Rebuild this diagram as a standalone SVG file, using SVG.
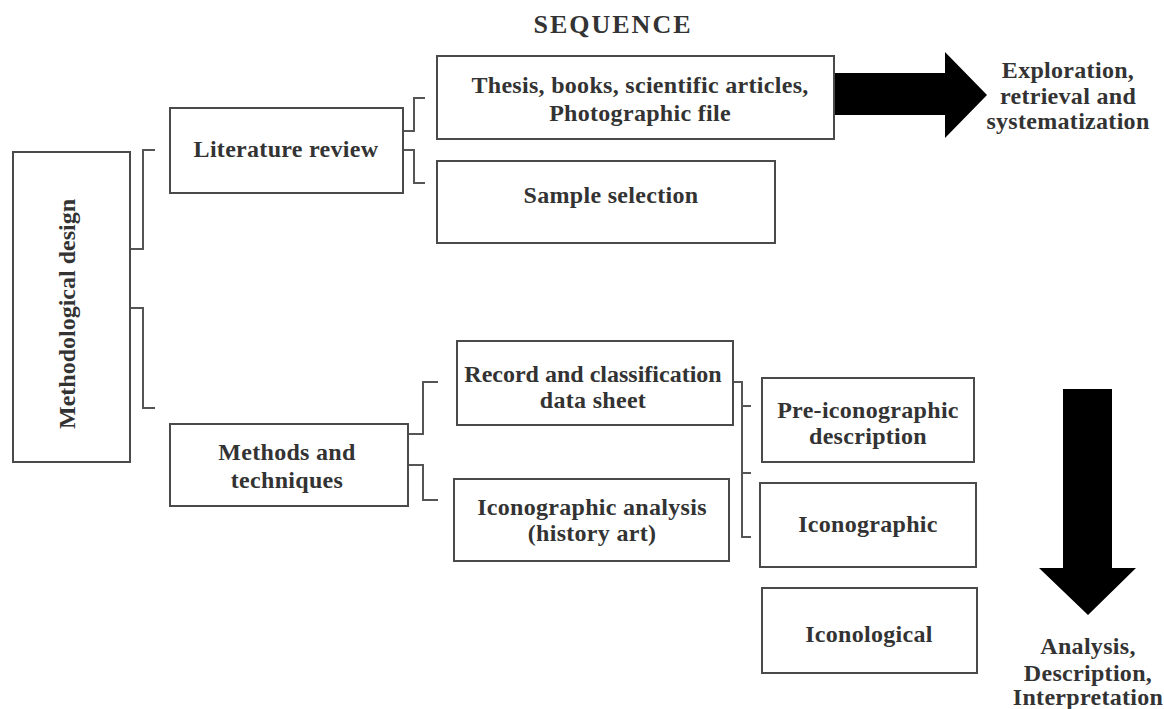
<svg xmlns="http://www.w3.org/2000/svg" width="1164" height="709" viewBox="0 0 1164 709">
<style>
.box{fill:#fff;stroke:#4a4a4a;stroke-width:2}
.t{font-family:"Liberation Serif","Times New Roman",serif;font-weight:bold;font-size:24px;fill:#333;text-anchor:middle;letter-spacing:0.3px}
.c{fill:none;stroke:#555;stroke-width:2}
.arr{fill:#000}
</style>
<rect width="1164" height="709" fill="#fff"/>
<text class="t" x="613" y="33" style="font-size:26px;letter-spacing:2px">SEQUENCE</text>
<g id="connectors">
<path class="c" d="M130,249 H143 V150 H155"/>
<path class="c" d="M130,308 H143 V408 H155"/>
<path class="c" d="M403,131 H414 V98 H425"/>
<path class="c" d="M403,150 H414 V183 H425"/>
<path class="c" d="M408,434 H423 V382 H438"/>
<path class="c" d="M408,465 H423 V500 H438"/>
<path class="c" d="M733,382 H742 V537 H751 M742,406 H751 M742,473 H751"/>
</g>
<g id="methodological-design">
<rect class="box" x="13" y="152" width="117" height="310"/>
<text class="t" transform="translate(75,314) rotate(-90)" style="letter-spacing:0">Methodological design</text>
</g>
<g id="literature-review">
<rect class="box" x="170" y="108" width="233" height="85"/>
<text class="t" x="286" y="157">Literature review</text>
</g>
<g id="thesis">
<rect class="box" x="437" y="56" width="397" height="83"/>
<text class="t" x="640" y="93">Thesis, books, scientific articles,</text>
<text class="t" x="640" y="121">Photographic file</text>
</g>
<g id="sample-selection">
<rect class="box" x="437" y="161" width="338" height="82"/>
<text class="t" x="611" y="203">Sample selection</text>
</g>
<g id="methods">
<rect class="box" x="170" y="424" width="238" height="82"/>
<text class="t" x="287" y="460">Methods and</text>
<text class="t" x="287" y="488">techniques</text>
</g>
<g id="record">
<rect class="box" x="457" y="341" width="276" height="84"/>
<text class="t" x="593" y="382" style="letter-spacing:0">Record and classification</text>
<text class="t" x="593" y="408">data sheet</text>
</g>
<g id="iconographic-analysis">
<rect class="box" x="454" y="479" width="275" height="82"/>
<text class="t" x="592" y="515">Iconographic analysis</text>
<text class="t" x="592" y="541">(history art)</text>
</g>
<g id="pre-iconographic">
<rect class="box" x="762" y="378" width="212" height="84"/>
<text class="t" x="868" y="418">Pre-iconographic</text>
<text class="t" x="868" y="444">description</text>
</g>
<g id="iconographic">
<rect class="box" x="760" y="483" width="216" height="84"/>
<text class="t" x="868" y="532">Iconographic</text>
</g>
<g id="iconological">
<rect class="box" x="762" y="588" width="215" height="85"/>
<text class="t" x="869" y="642">Iconological</text>
</g>
<g id="exploration">
<polygon class="arr" points="835,73 945,73 945,52 987,95 945,138 945,115 835,115"/>
<text class="t" x="1068" y="78">Exploration,</text>
<text class="t" x="1068" y="104">retrieval and</text>
<text class="t" x="1068" y="129">systematization</text>
</g>
<g id="analysis">
<polygon class="arr" points="1063,389 1112,389 1112,568 1136,568 1088,615 1039,568 1063,568"/>
<text class="t" x="1088" y="654">Analysis,</text>
<text class="t" x="1088" y="681">Description,</text>
<text class="t" x="1088" y="705">Interpretation</text>
</g>
</svg>
